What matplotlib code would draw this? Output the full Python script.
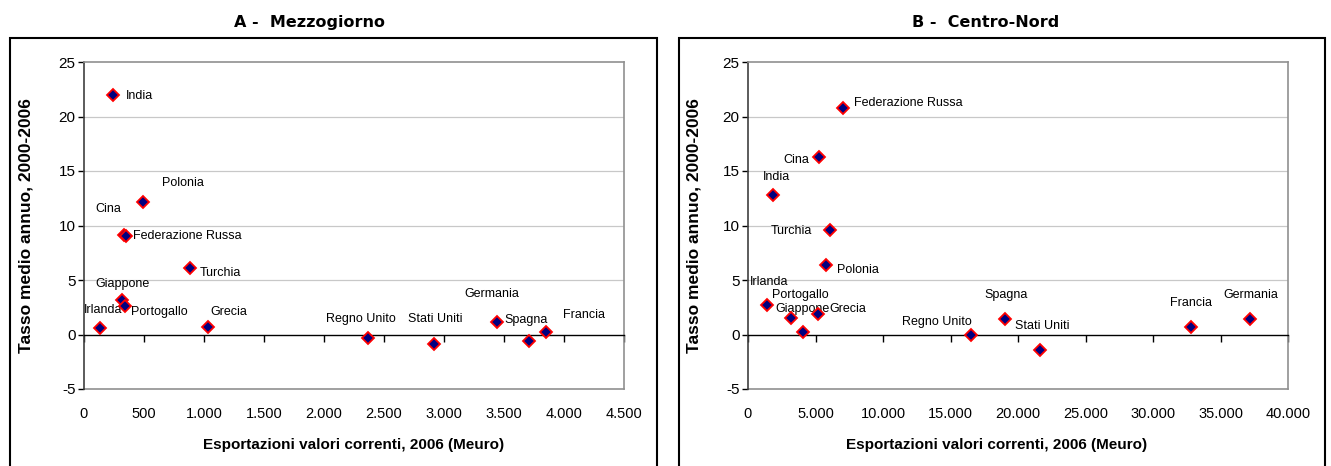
import matplotlib
matplotlib.use('Agg')
from matplotlib import pyplot as plt
from matplotlib.ticker import FuncFormatter
from matplotlib.patches import Rectangle

plt.rcParams['font.family'] = ['Liberation Sans', 'DejaVu Sans']
plt.rcParams['axes.unicode_minus'] = False

# A - Mezzogiorno
paesi_a = ['India', 'Polonia', 'Cina', 'Federazione Russa', 'Turchia', 'Giappone', 'Irlanda',
           'Portogallo', 'Grecia', 'Regno Unito', 'Stati Uniti', 'Germania', 'Spagna', 'Francia']
export_a = [240, 495, 330, 352, 880, 315, 135, 340, 1035, 2365, 2915, 3440, 3705, 3850]
tasso_a = [22.0, 12.2, 9.1, 9.0, 6.1, 3.2, 0.6, 2.6, 0.7, -0.3, -0.9, 1.15, -0.6, 0.25]
# label offsets (px) of each data label from its point
off_a = [(13, 1), (19, -19), (-28, -26), (7, 0), (10, 5), (-26, -16), (-16, -18),
         (6, 6), (2, -15), (-42, -19), (-26, -25), (-32, -28), (-24, -21), (17, -17)]

# B - Centro-Nord
paesi_b = ['Federazione Russa', 'Cina', 'India', 'Turchia', 'Polonia', 'Irlanda', 'Portogallo',
           'Giappone', 'Grecia', 'Regno Unito', 'Spagna', 'Stati Uniti', 'Francia', 'Germania']
export_b = [7040, 5240, 1830, 6060, 5780, 1430, 3160, 4040, 5150, 16500, 19000, 21600, 32800, 37200]
tasso_b = [20.8, 16.3, 12.8, 9.6, 6.4, 2.7, 1.5, 0.2, 1.9, 0.0, 1.4, -1.4, 0.65, 1.4]
off_b = [(11, -5), (-35, 3), (-10, -18), (-59, 1), (11, 5), (-17, -23), (-19, -23),
         (-27, -23), (12, -5), (-69, -13), (-20, -24), (-25, -24), (-21, -24), (-27, -24)]

yticks = [-5, 0, 5, 10, 15, 20, 25]

W, H = 1331, 466
fig = plt.figure(figsize=(W / 100, H / 100), dpi=100)


def thousands(v, pos):
    return f"{v:,.0f}".replace(',', '.')


def panel(left_px, xmax, xstep, paesi, xs, ys, offs, title, box, title_x, ylab_x, xlab_x):
    xticks = list(range(0, xmax + 1, xstep))
    ax = fig.add_axes([left_px / W, (H - 389) / H, 540 / W, 327 / H])
    ax.set_xlim(0, xmax)
    ax.set_ylim(-5, 25)
    ax.set_yticks(yticks)
    ax.set_xticks(xticks)
    for y in yticks[2:-1]:
        ax.axhline(y, color='#c8c8c8', lw=0.9, zorder=0)
    for s in ['top', 'right']:
        ax.spines[s].set_color('#909090')
        ax.spines[s].set_linewidth(1.2)
    ax.spines['left'].set_color('#404040')
    ax.spines['left'].set_linewidth(1.2)
    ax.spines['bottom'].set_position(('data', 0))
    ax.spines['bottom'].set_color('black')
    ax.spines['bottom'].set_linewidth(1.0)
    ax.tick_params(axis='x', direction='out', length=5, width=1, labelbottom=False)
    ax.tick_params(axis='y', direction='out', length=4, width=1, pad=2,
                   labelsize=11, colors='black')
    sec = ax.secondary_xaxis(0.0)
    sec.set_xticks(xticks)
    sec.xaxis.set_major_formatter(FuncFormatter(thousands))
    sec.spines['bottom'].set_color('#909090')
    sec.spines['bottom'].set_linewidth(1.2)
    sec.tick_params(length=0, pad=13, labelsize=10.5)
    ax.set_xlabel('Esportazioni valori correnti, 2006 (Meuro)', fontsize=11, fontweight='bold')
    ax.xaxis.set_label_coords(xlab_x, -0.15)
    ax.set_ylabel('Tasso medio annuo, 2000-2006', fontsize=12.5, fontweight='bold')
    ax.yaxis.set_label_coords(ylab_x, 0.5)

    ax.plot(xs, ys, linestyle='none', marker='D', markersize=6,
            markerfacecolor='#000080', markeredgecolor='#ff0000', markeredgewidth=1.3,
            clip_on=False, zorder=5)
    for name, x, y, (dx, dy) in zip(paesi, xs, ys, offs):
        ax.annotate(name, (x, y), xytext=(dx * 0.72, -dy * 0.72), textcoords='offset points',
                    ha='left', va='center', fontsize=9)

    x0, x1 = box
    fig.patches.append(Rectangle((x0 / W, -0.1), (x1 - x0) / W, 1.1 - 38 / H,
                                 transform=fig.transFigure, fill=False,
                                 edgecolor='black', lw=1.5))
    fig.text(title_x / W, 1 - 27 / H, title, ha='center', va='baseline',
             fontsize=11.5, fontweight='bold', family='DejaVu Sans')
    return ax


panel(84, 4500, 500, paesi_a, export_a, tasso_a, off_a, 'A -  Mezzogiorno',
      (10, 657), 309, -0.094, 0.5)
panel(748, 40000, 5000, paesi_b, export_b, tasso_b, off_b, 'B -  Centro-Nord',
      (679, 1325), 986, -0.087, 0.46)

fig.savefig('out.png', dpi=100)
